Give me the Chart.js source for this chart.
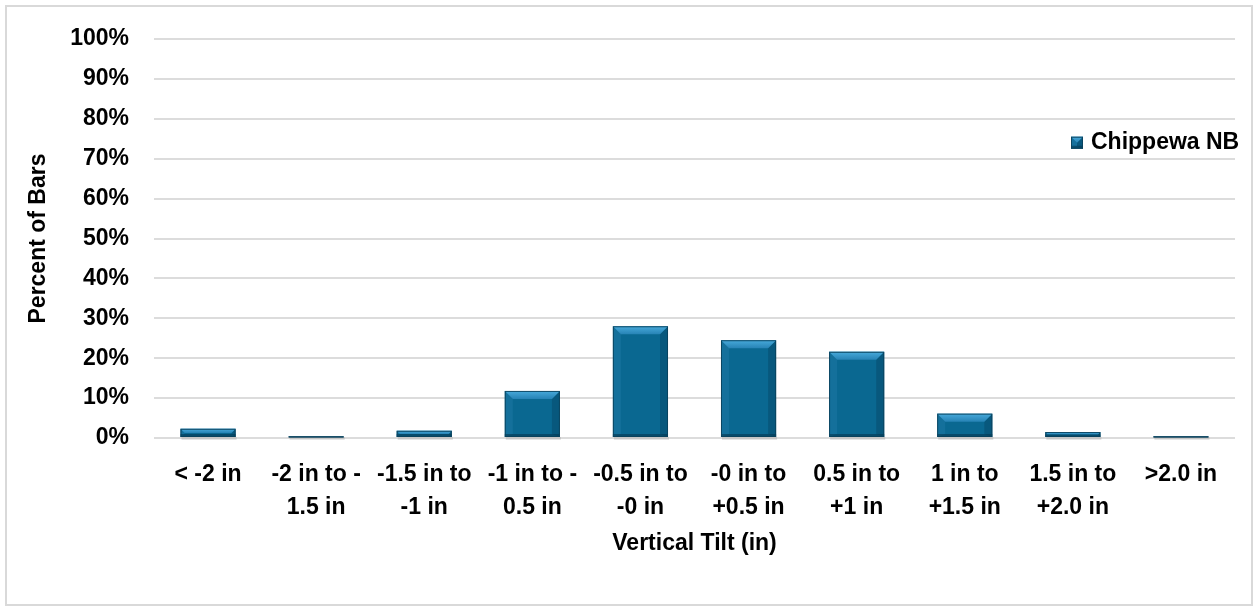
<!DOCTYPE html>
<html>
<head>
<meta charset="utf-8">
<script src="https://cdn.jsdelivr.net/npm/chart.js@4"></script>
<style>
  html, body { margin: 0; padding: 0; background: #fff; }
  #wrap { position: relative; width: 1254px; height: 607px; }
</style>
</head>
<body>
<div id="wrap"><canvas id="tiltChart" width="1254" height="607"></canvas></div>
<script>
// Categorias de inclinacion vertical (etiquetas en varias lineas)
const categorias = [
    '< -2 in',
    ['-2 in to -', '1.5 in'],
    ['-1.5 in to', '-1 in'],
    ['-1 in to -', '0.5 in'],
    ['-0.5 in to', '-0 in'],
    ['-0 in to', '+0.5 in'],
    ['0.5 in to', '+1 in'],
    ['1 in to', '+1.5 in'],
    ['1.5 in to', '+2.0 in'],
    '>2.0 in'
];
// Porcentaje de barras por categoria
const porcentajes = [2.3, 0.3, 1.8, 11.8, 28.0, 24.5, 21.6, 6.1, 1.5, 0.3];
const serie = 'Chippewa NB';
const ticksY = [0, 10, 20, 30, 40, 50, 60, 70, 80, 90, 100];

const fuente = '"Liberation Sans", Arial, sans-serif';
const tam = 23;

// Dibuja el efecto biselado encima de un rectangulo
function dibujarBisel(ctx, left, top, width, height) {
    const b = Math.min(8, height / 2, width / 2);
    const bb = Math.min(3, height / 2);
    const right = left + width, bottom = top + height;
    // lados (muy suaves)
    ctx.fillStyle = 'rgba(40,130,175,0.35)';
    ctx.beginPath();
    ctx.moveTo(left, top); ctx.lineTo(left + b, top + b);
    ctx.lineTo(left + b, bottom - bb); ctx.lineTo(left, bottom);
    ctx.closePath(); ctx.fill();
    ctx.fillStyle = 'rgba(5,60,90,0.35)';
    ctx.beginPath();
    ctx.moveTo(right, top); ctx.lineTo(right - b, top + b);
    ctx.lineTo(right - b, bottom - bb); ctx.lineTo(right, bottom);
    ctx.closePath(); ctx.fill();
    // cara superior (clara)
    let g = ctx.createLinearGradient(0, top, 0, top + b);
    g.addColorStop(0, '#48aadb');
    g.addColorStop(1, '#2783b5');
    ctx.fillStyle = g;
    ctx.beginPath();
    ctx.moveTo(left, top); ctx.lineTo(right, top);
    ctx.lineTo(right - b, top + b); ctx.lineTo(left + b, top + b);
    ctx.closePath(); ctx.fill();
    // borde inferior oscuro
    ctx.fillStyle = 'rgba(5,55,80,0.6)';
    ctx.fillRect(left, bottom - bb, width, bb);
    // contorno
    ctx.strokeStyle = 'rgba(10,65,92,0.9)';
    ctx.lineWidth = 1;
    ctx.strokeRect(left + 0.5, top + 0.5, width - 1, height - 1);
}

const biselPlugin = {
    id: 'bisel',
    beforeDraw(chart) {
        const ctx = chart.ctx;
        ctx.save();
        ctx.fillStyle = '#fff';
        ctx.fillRect(0, 0, chart.width, chart.height);
        ctx.strokeStyle = '#d9d9d9';
        ctx.lineWidth = 2;
        ctx.strokeRect(6, 6, chart.width - 8, chart.height - 8);
        ctx.restore();
    },
    beforeDatasetsDraw(chart) {
        // sombra suave bajo cada barra
        const ctx = chart.ctx;
        const meta = chart.getDatasetMeta(0);
        ctx.save();
        meta.data.forEach(bar => {
            const p = bar.getProps(['x', 'base', 'width'], true);
            ctx.fillStyle = 'rgba(0,0,0,0.10)';
            ctx.fillRect(p.x - p.width / 2 + 1, p.base, p.width, 3);
        });
        ctx.restore();
    },
    afterDatasetsDraw(chart) {
        const ctx = chart.ctx;
        const meta = chart.getDatasetMeta(0);
        ctx.save();
        meta.data.forEach(bar => {
            const p = bar.getProps(['x', 'y', 'base', 'width'], true);
            const h = p.base - p.y;
            if (h <= 0) return;
            dibujarBisel(ctx, p.x - p.width / 2, p.y, p.width, h);
        });
        ctx.restore();
    },
    afterDraw(chart) {
        // leyenda dentro del area del grafico
        const ctx = chart.ctx;
        const area = chart.chartArea;
        const y = chart.scales.y.getPixelForValue(74);
        ctx.save();
        ctx.fillStyle = '#0b6793';
        ctx.fillRect(area.right - 164, y - 6, 12, 12);
        dibujarBisel(ctx, area.right - 164, y - 6, 12, 12);
        ctx.fillStyle = '#000';
        ctx.font = 'bold ' + tam + 'px ' + fuente;
        ctx.textBaseline = 'middle';
        ctx.fillText(chart.data.datasets[0].label, area.right - 144, y);
        ctx.restore();
    }
};

const ctx = document.getElementById('tiltChart').getContext('2d');
new Chart(ctx, {
    type: 'bar',
    data: {
        labels: categorias,
        datasets: [{
            label: serie,
            data: porcentajes,
            backgroundColor: '#0a6891',
            borderWidth: 0,
            barPercentage: 0.51,
            categoryPercentage: 1.0
        }]
    },
    options: {
        responsive: false,
        animation: false,
        layout: { padding: { left: 16, right: 19, top: 39, bottom: 37 } },
        plugins: {
            legend: { display: false },
            tooltip: { enabled: false }
        },
        scales: {
            x: {
                grid: { display: false, drawTicks: false },
                border: { display: false },
                ticks: {
                    color: '#000',
                    padding: 20,
                    maxRotation: 0,
                    autoSkip: false,
                    font: { family: fuente, size: tam, weight: 'bold', lineHeight: 1.45 }
                },
                title: {
                    display: true,
                    text: 'Vertical Tilt (in)',
                    color: '#000',
                    padding: { top: 0, bottom: 13 },
                    font: { family: fuente, size: tam, weight: 'bold' }
                },
                afterFit(scale) { scale.height = 607 - 37 - 438; }
            },
            y: {
                min: 0,
                max: 100,
                grid: { color: '#dcdcdc', lineWidth: 2, drawTicks: false },
                border: { display: false },
                afterBuildTicks(scale) {
                    scale.ticks = ticksY.map(v => ({ value: v }));
                },
                ticks: {
                    color: '#000',
                    padding: 25,
                    font: { family: fuente, size: tam, weight: 'bold' },
                    callback: v => v + '%'
                },
                title: {
                    display: true,
                    text: 'Percent of Bars',
                    color: '#000',
                    padding: { top: 9, bottom: 0 },
                    font: { family: fuente, size: tam, weight: 'bold' }
                },
                afterFit(scale) { scale.width = 154 - 16; }
            }
        }
    },
    plugins: [biselPlugin]
});
</script>
</body>
</html>
